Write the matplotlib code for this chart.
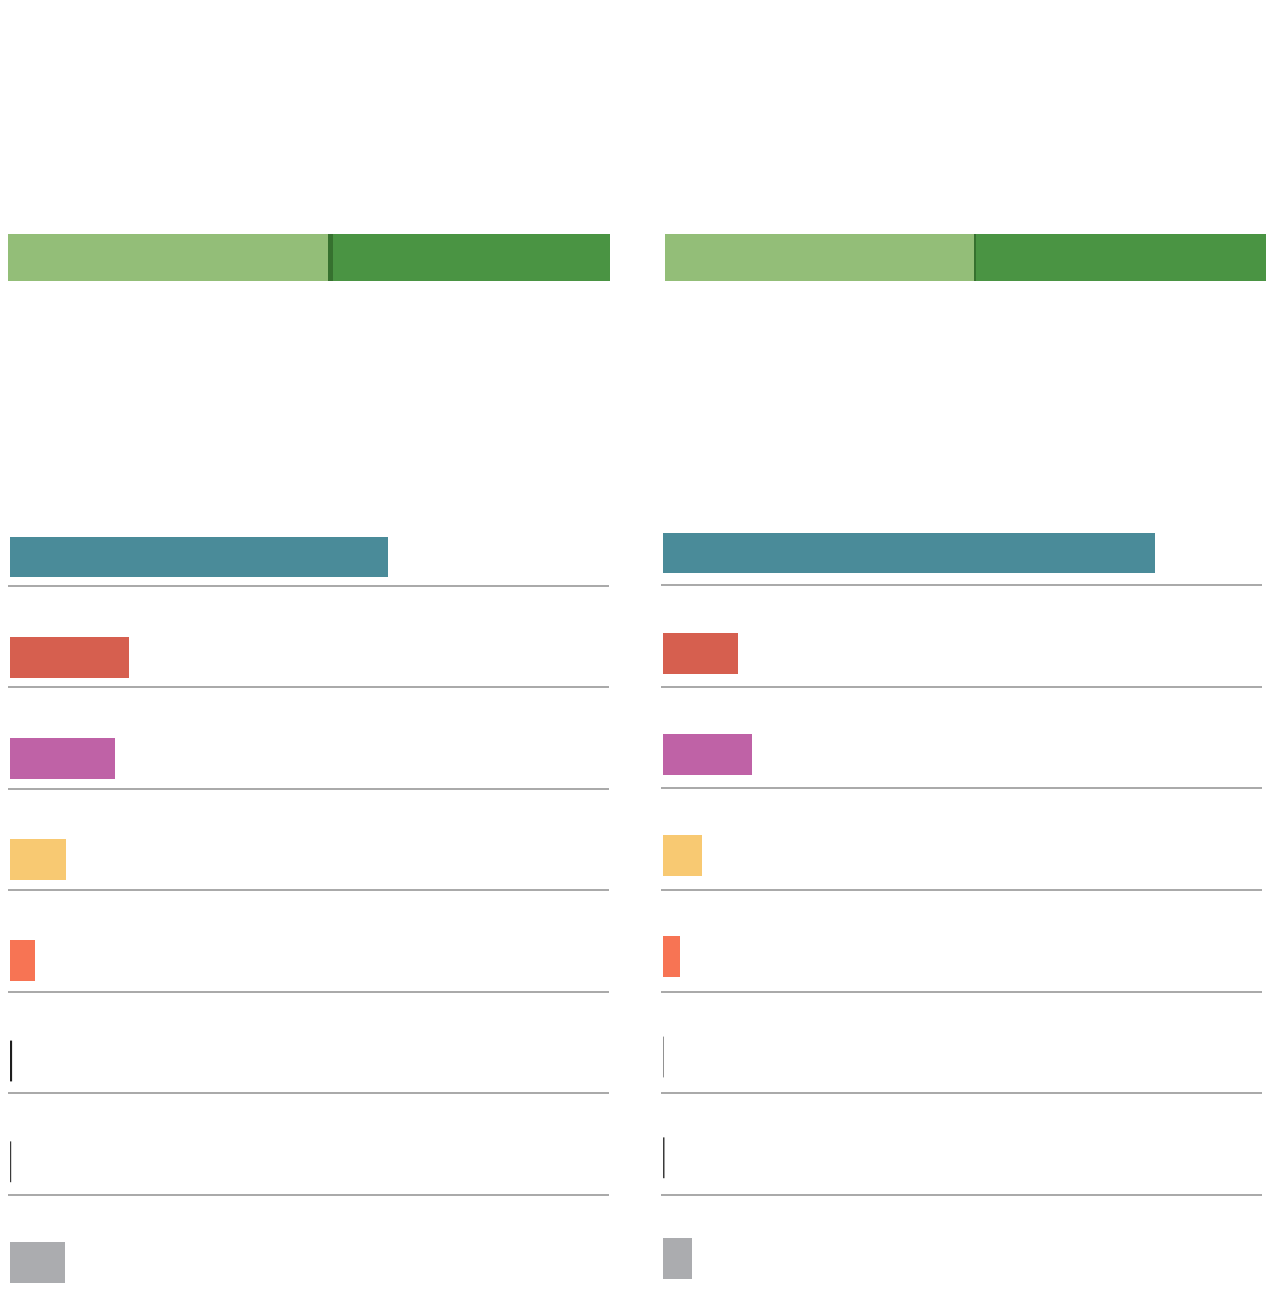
import matplotlib
matplotlib.use("Agg")
import matplotlib.pyplot as plt

W, H = 1280, 1308

# top split bars (share of total, %)
split_light = [53.2, 51.4]
split_edge = [0.8, 0.3]
split_dark = [46.0, 48.3]

# category bars (%), one list per panel
categories = ["cat1", "cat2", "cat3", "cat4", "cat5", "cat6", "cat7", "cat8"]
left_values = [63.0, 19.8, 17.5, 9.3, 4.2, 0.35, 0.2, 9.2]
right_values = [82.0, 12.5, 14.8, 6.5, 2.8, 0.08, 0.25, 4.8]

bar_colors = ["#4A8B99", "#D65F4F", "#BF62A6", "#F8C972", "#F77454",
              "#1E1E1E", "#3A3A3A", "#ABACAF"]
light_green = "#93BE78"
dark_green = "#4A9443"
edge_green = "#36712F"
sep_color = "#999999"


def px_axes(fig, x0, y0, x1, y1):
    # pixel box (top-left origin) -> figure fraction
    return fig.add_axes([x0 / W, 1 - y1 / H, (x1 - x0) / W, (y1 - y0) / H])


fig = plt.figure(figsize=(W / 100, H / 100), dpi=100)
fig.patch.set_facecolor("white")

# split bars at the top
for i, (x0, x1) in enumerate([(8, 610), (665, 1266)]):
    ax = px_axes(fig, x0, 234, x1, 281)
    left = 0
    for val, col in zip([split_light[i], split_edge[i], split_dark[i]],
                        [light_green, edge_green, dark_green]):
        ax.barh(0, val, left=left, height=1, color=col, linewidth=0)
        left += val
    ax.set_xlim(0, 100)
    ax.set_ylim(-0.5, 0.5)
    ax.axis("off")

# category bars
pitch = 100.8
sep_pitch = 101.5
first_sep = 585.5
panels = [(10, 557, left_values), (663, 553, right_values)]
for x0, first_center, values in panels:
    top = first_center - pitch / 2
    bottom = top + pitch * len(categories)
    ax = px_axes(fig, x0, top, x0 + 600, bottom)
    rows = list(range(len(categories)))
    bars = ax.barh(rows, values, height=0.405, color=bar_colors, linewidth=0)
    # thin bars: no pixel snapping, so they don't vanish
    for p in bars.patches[5:7]:
        p.set_snap(False)
    for r in rows[:-1]:
        y = (first_sep + r * sep_pitch - first_center) / pitch
        ax.plot([-0.4, 99.8], [y, y], color=sep_color,
                lw=1.2, clip_on=False, solid_capstyle="butt")
    ax.set_xlim(0, 100)
    ax.set_ylim(len(categories) - 0.5, -0.5)
    ax.axis("off")

fig.savefig("out.png", dpi=100, facecolor="white")
